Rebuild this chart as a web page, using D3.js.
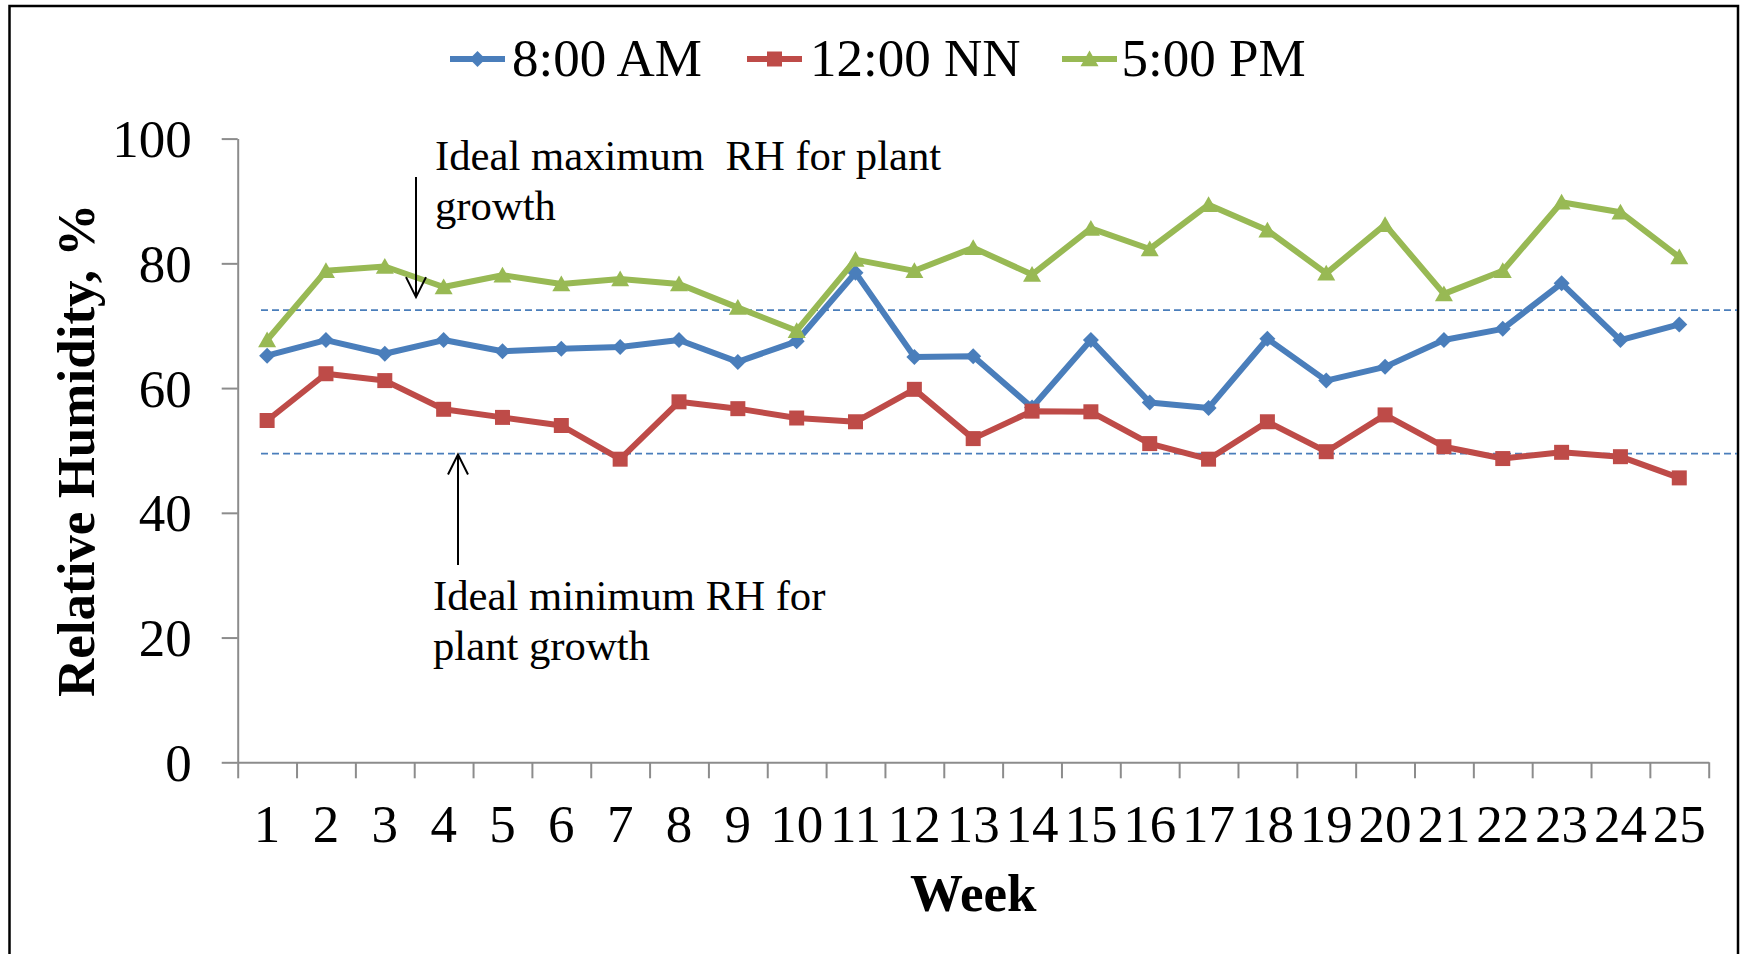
<!DOCTYPE html>
<html>
<head>
<meta charset="utf-8">
<script src="https://cdn.jsdelivr.net/npm/d3@7"></script>
<style>
  html, body { margin: 0; padding: 0; background: #fff; }
  svg { display: block; }
  text { font-family: "Liberation Serif", "Times New Roman", serif; fill: #000; }
</style>
</head>
<body>
<svg id="chart" width="1741" height="954"></svg>
<script>
// Weekly relative humidity readings at three times of day
const weeks = d3.range(1, 26).map(String);
const rhMorning = [65.2, 67.7, 65.5, 67.7, 65.9, 66.3, 66.6, 67.7, 64.2, 67.5, 78.5, 65.0, 65.1,
                   56.9, 67.7, 57.7, 56.8, 67.9, 61.2, 63.4, 67.7, 69.5, 76.8, 67.7, 70.2];
const rhNoon    = [54.8, 62.3, 61.2, 56.6, 55.3, 54.0, 48.6, 57.8, 56.7, 55.2, 54.6, 59.8, 51.9,
                   56.3, 56.2, 51.1, 48.6, 54.6, 49.8, 55.7, 50.6, 48.7, 49.7, 49.0, 45.6];
const rhEvening = [67.7, 78.8, 79.5, 76.2, 78.1, 76.7, 77.5, 76.7, 72.9, 69.2, 80.6, 78.8, 82.5,
                   78.2, 85.6, 82.3, 89.4, 85.3, 78.4, 86.2, 75.1, 78.8, 89.8, 88.2, 81.0];
const seriesNames = ["8:00 AM", "12:00 NN", "5:00 PM"];
const yTicks = [0, 20, 40, 60, 80, 100];
const idealMaxRH = 72.5;
const idealMinRH = 49.5;

const series = [
  { name: seriesNames[0], values: rhMorning, color: "#4A7EBB", marker: "diamond" },
  { name: seriesNames[1], values: rhNoon,    color: "#BE4B48", marker: "square" },
  { name: seriesNames[2], values: rhEvening, color: "#98B954", marker: "triangle" }
];

const svg = d3.select("#chart");
const plotLeft = 237.7, plotRight = 1708.7, plotTop = 138.6, plotBottom = 762.3;
const FONT = 53;
const SERIF = "Liberation Serif, Times New Roman, serif";

// Outer frame
svg.append("rect")
  .attr("x", 9.5).attr("y", 6)
  .attr("width", 1728.5).attr("height", 1000)
  .attr("fill", "none").attr("stroke", "#000").attr("stroke-width", 2.5);

const x = d3.scaleBand().domain(weeks).range([plotLeft, plotRight]).padding(0);
const xEdge = d3.scaleLinear().domain([0, weeks.length]).range([plotLeft, plotRight]);
const y = d3.scaleLinear().domain([0, 100]).range([plotBottom, plotTop]);

const axisColor = "#8C8C8C";

// Y axis
const gy = svg.append("g").attr("transform", `translate(${plotLeft},0)`)
  .call(d3.axisLeft(y).tickValues(yTicks).tickSize(16).tickSizeOuter(0).tickPadding(30));
gy.select(".domain").attr("stroke", axisColor).attr("stroke-width", 2);
gy.selectAll(".tick line").attr("stroke", axisColor).attr("stroke-width", 2);
gy.selectAll(".tick text")
  .attr("font-size", FONT).attr("font-family", SERIF)
  .attr("dy", "0.34em").attr("fill", "#000");

// X axis: tick marks between weeks
const gxTicks = svg.append("g").attr("transform", `translate(0,${plotBottom})`)
  .call(d3.axisBottom(xEdge).tickValues(d3.range(0, weeks.length + 1)).tickSize(16).tickSizeOuter(0).tickFormat(""));
gxTicks.select(".domain").attr("stroke", axisColor).attr("stroke-width", 2);
gxTicks.selectAll(".tick line").attr("stroke", axisColor).attr("stroke-width", 2);

// X axis: week labels centred in each band
const gxLabels = svg.append("g").attr("transform", `translate(0,${plotBottom})`)
  .call(d3.axisBottom(x).tickSize(0).tickSizeOuter(0));
gxLabels.select(".domain").remove();
gxLabels.selectAll(".tick text")
  .attr("font-size", FONT).attr("font-family", SERIF)
  .attr("y", 80).attr("dy", 0).attr("fill", "#000");

// Axis titles
svg.append("text")
  .attr("transform", `translate(94,${(plotTop + plotBottom) / 2}) rotate(-90)`)
  .attr("text-anchor", "middle").attr("font-size", FONT).attr("font-weight", "bold")
  .text("Relative Humidity, %");
svg.append("text")
  .attr("x", (plotLeft + plotRight) / 2).attr("y", 911)
  .attr("text-anchor", "middle").attr("font-size", FONT).attr("font-weight", "bold")
  .text("Week");

// Ideal RH reference lines
[idealMaxRH, idealMinRH].forEach(v => {
  svg.append("line")
    .attr("x1", 261).attr("x2", 1737)
    .attr("y1", y(v)).attr("y2", y(v))
    .attr("stroke", "#4A7EBB").attr("stroke-width", 1.8)
    .attr("stroke-dasharray", "7,4");
});

// Marker shapes
function markerPath(type, cx, cy) {
  if (type === "diamond") {
    const r = 8;
    return `M${cx},${cy - r}L${cx + r},${cy}L${cx},${cy + r}L${cx - r},${cy}Z`;
  }
  if (type === "square") {
    const h = 7.5;
    return `M${cx - h},${cy - h}H${cx + h}V${cy + h}H${cx - h}Z`;
  }
  const w = 9, hh = 8.5;
  return `M${cx},${cy - hh}L${cx + w},${cy + hh * 0.85}L${cx - w},${cy + hh * 0.85}Z`;
}

const line = d3.line()
  .x((d, i) => x(weeks[i]) + x.bandwidth() / 2)
  .y(d => y(d));

series.forEach(s => {
  const g = svg.append("g");
  g.append("path")
    .attr("d", line(s.values))
    .attr("fill", "none").attr("stroke", s.color)
    .attr("stroke-width", 6).attr("stroke-linejoin", "round");
  g.selectAll("path.mk").data(s.values).join("path")
    .attr("class", "mk")
    .attr("d", (d, i) => markerPath(s.marker, x(weeks[i]) + x.bandwidth() / 2, y(d)))
    .attr("fill", s.color);
});

// Legend
const legendItems = [
  { lx: 450, tx: 512 },
  { lx: 747, tx: 810 },
  { lx: 1062, tx: 1121.5 }
];
series.forEach((s, i) => {
  const it = legendItems[i];
  const g = svg.append("g");
  g.append("line")
    .attr("x1", it.lx).attr("x2", it.lx + 55)
    .attr("y1", 59).attr("y2", 59)
    .attr("stroke", s.color).attr("stroke-width", 6);
  g.append("path").attr("d", markerPath(s.marker, it.lx + 27.5, 59)).attr("fill", s.color);
  g.append("text").attr("x", it.tx).attr("y", 76).attr("font-size", FONT).text(s.name);
});

// Annotations
const ANN = 42.7;
svg.append("text").attr("x", 435).attr("y", 170).attr("font-size", ANN)
  .style("white-space", "pre").text("Ideal maximum  RH for plant");
svg.append("text").attr("x", 435).attr("y", 220).attr("font-size", ANN).text("growth");
svg.append("text").attr("x", 433).attr("y", 610).attr("font-size", ANN).text("Ideal minimum RH for");
svg.append("text").attr("x", 433).attr("y", 660).attr("font-size", ANN).text("plant growth");

function arrow(xa, yFrom, yTip) {
  const dir = yTip > yFrom ? 1 : -1;
  svg.append("line").attr("x1", xa).attr("x2", xa).attr("y1", yFrom).attr("y2", yTip)
    .attr("stroke", "#000").attr("stroke-width", 2);
  svg.append("path")
    .attr("d", `M${xa - 10},${yTip - dir * 20}L${xa},${yTip}L${xa + 10},${yTip - dir * 20}`)
    .attr("fill", "none").attr("stroke", "#000").attr("stroke-width", 2);
}
arrow(416, 177, y(idealMaxRH) - 13);
arrow(458, 565, y(idealMinRH) + 1);
</script>
</body>
</html>
